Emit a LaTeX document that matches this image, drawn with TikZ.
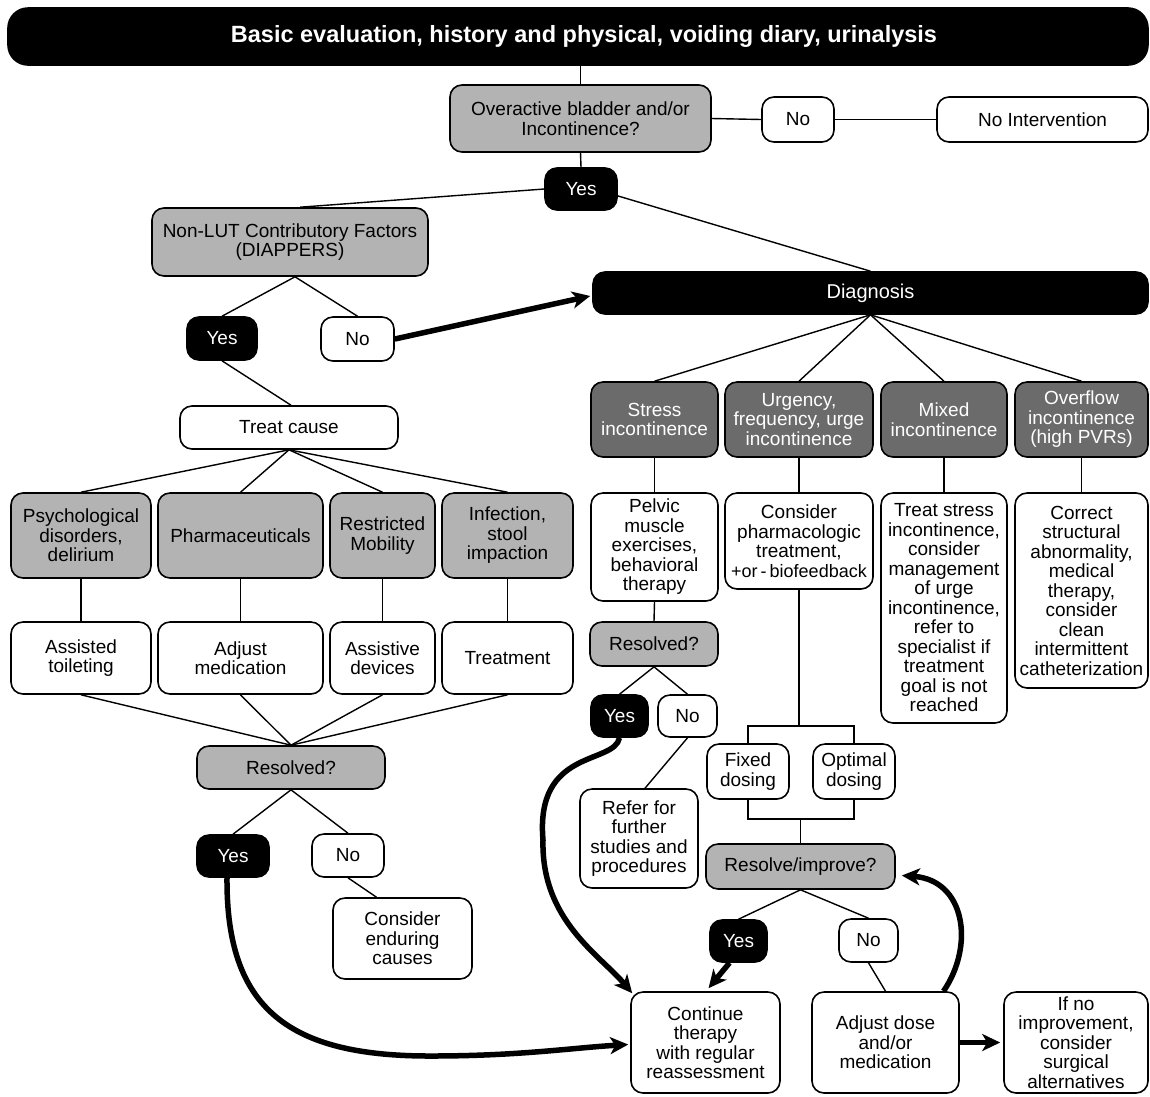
\documentclass[tikz,border=0pt]{standalone}
\usepackage{fontspec}
\setmainfont{Liberation Sans}
\usetikzlibrary{arrows.meta,calc}
\definecolor{lgray}{HTML}{B3B3B3}
\definecolor{dgray}{HTML}{6B6B6B}
\newcommand\bodyfs{\fontsize{19}{19.5}\selectfont}
\begin{document}
\begin{tikzpicture}[x=1pt,y=-1pt,
  base/.style={draw=black, line width=1.6pt, rounded corners=12pt, align=center, inner sep=0pt, font=\bodyfs},
  wbox/.style={base, fill=white},
  gbox/.style={base, fill=lgray},
  dbox/.style={base, fill=dgray, text=white},
  bbox/.style={base, fill=black, text=white},
  sz/.style 2 args={minimum width=#1, minimum height=#2},
  conn/.style={line width=1.4pt},
  boldarrow/.style={line width=5.5pt, -{Stealth[length=18pt,width=17pt,inset=5pt]}}
]
\useasboundingbox (0,0) rectangle (1150,1096);

% top
\node[bbox, sz={1140}{57}, rounded corners=20pt, font=\fontsize{23.5}{26}\selectfont\bfseries] (title) at (578,36.5) {\hspace*{12pt}Basic evaluation, history and physical, voiding diary, urinalysis};
\node[gbox, sz={261}{67}] (q1) at (580.5,118.5) {Overactive bladder and/or\\Incontinence?};
\node[wbox, sz={72}{45}] (no1) at (798,119.5) {No};
\node[wbox, sz={211}{45}] (noint) at (1042.5,119.5) {No Intervention};
\node[bbox, sz={72}{42}] (yes1) at (581,189) {Yes};
\node[gbox, sz={276}{68}] (nonlut) at (290,242) {Non-LUT Contributory Factors\\(DIAPPERS)};
\node[bbox, sz={555}{42}, font=\fontsize{20}{22}\selectfont] (diag) at (870.5,293) {Diagnosis};

% left branch
\node[bbox, sz={70}{43}] (yes2) at (222,338.5) {Yes};
\node[wbox, sz={73}{44}] (no2) at (357.5,339) {No};
\node[wbox, sz={218}{43}] (treat) at (289,427.5) {Treat cause};
\node[gbox, sz={140}{85}] (psych) at (81,535.5) {Psychological\\disorders,\\delirium};
\node[gbox, sz={165}{85}] (pharma) at (240.5,535.5) {Pharmaceuticals};
\node[gbox, sz={105}{85}] (restr) at (382.5,535.5) {Restricted\\Mobility};
\node[gbox, sz={131}{85}] (infect) at (507.5,535.5) {Infection,\\stool\\impaction};
\node[wbox, sz={140}{72}] (assist) at (81,658) {Assisted\\toileting};
\node[wbox, sz={165}{72}] (adjmed) at (240.5,658) {Adjust\\medication};
\node[wbox, sz={105}{72}] (devices) at (382.5,658) {Assistive\\devices};
\node[wbox, sz={131}{72}] (treatment) at (507.5,658) {Treatment};
\node[gbox, sz={188}{43}] (res1) at (291,767.5) {Resolved?};
\node[bbox, sz={72}{42}] (yes3) at (233,856) {Yes};
\node[wbox, sz={72}{43}] (no3) at (348,855.5) {No};
\node[wbox, sz={139}{81}] (enduring) at (402.5,938.5) {Consider\\enduring\\causes};

% right branch
\node[dbox, sz={127}{75}] (stress) at (654.5,419.5) {Stress\\incontinence};
\node[dbox, sz={148}{75}] (urg) at (799,419.5) {Urgency,\\frequency, urge\\incontinence};
\node[dbox, sz={126}{75}] (mixed) at (944,419.5) {Mixed\\incontinence};
\node[dbox, sz={133}{75}] (overflow) at (1081.5,419.5) {Overflow\\incontinence\\(high PVRs)};
\node[wbox, sz={127}{108}] (pelvic) at (654.5,547) {Pelvic\\muscle\\exercises,\\behavioral\\therapy};
\node[wbox, sz={148}{96}] (pharmtx) at (799,541) {Consider\\pharmacologic\\treatment,\\{\fontsize{18}{19.5}\selectfont +or\,-\,biofeedback}};
\node[wbox, sz={126}{230}] (treatstress) at (944,608) {Treat stress\\incontinence,\\consider\\management\\of urge\\incontinence,\\refer to\\specialist if\\treatment\\goal is not\\reached};
\node[wbox, sz={133}{195}] (correct) at (1081.5,590.5) {Correct\\structural\\abnormality,\\medical\\therapy,\\consider\\clean\\intermittent\\catheterization};
\node[gbox, sz={128}{44}] (res2) at (654,644) {Resolved?};
\node[bbox, sz={57}{42}] (yes4) at (619.5,716) {Yes};
\node[wbox, sz={59}{42}] (no4) at (687.5,716) {No};
\node[wbox, sz={118}{99}] (refer) at (639,838.5) {Refer for\\further\\studies and\\procedures};
\node[wbox, sz={82}{55}] (fixed) at (748,771.5) {Fixed\\dosing};
\node[wbox, sz={82}{55}] (optimal) at (854,771.5) {Optimal\\dosing};
\node[gbox, sz={189}{45}] (res3) at (800.5,866.5) {Resolve/improve?};
\node[bbox, sz={57}{42}] (yes5) at (738.5,941) {Yes};
\node[wbox, sz={59}{43}] (no5) at (868.5,940.5) {No};
\node[wbox, sz={149}{101}] (cont) at (705.5,1042.5) {Continue\\therapy\\with regular\\reassessment};
\node[wbox, sz={147}{101}] (adjdose) at (885.5,1042.5) {Adjust dose\\and/or\\medication};
\node[wbox, sz={144}{101}] (ifno) at (1076,1042.5) {If no\\improvement,\\consider\\surgical\\alternatives};

\coordinate (bt) at (799,726);
\coordinate (bb) at (800.5,819);

% connectors top
\draw[conn] (q1.north |- title.south) -- (q1.north);
\draw[conn] (q1.east) -- (no1.west);
\draw[conn] (no1.east) -- (noint.west);
\draw[conn] (q1.south) -- (yes1.north);
\draw[conn] (yes1.west) -- ([shift={(10,0)}]nonlut.north);
\draw[conn] ([shift={(-3,6)}]yes1.east) -- (diag.north);
\draw[conn] ([shift={(5,0)}]nonlut.south) -- (yes2.north);
\draw[conn] ([shift={(5,0)}]nonlut.south) -- (no2.north);
\draw[boldarrow] (no2.east) -- ([shift={(-2,3)}]diag.west);
\draw[conn] (yes2.south) -- ([shift={(2,0)}]treat.north);
\foreach \n in {psych,pharma,restr,infect}{\draw[conn] (treat.south) -- (\n.north);}
\draw[conn] (psych.south) -- (assist.north);
\draw[conn] (pharma.south) -- (adjmed.north);
\draw[conn] (restr.south) -- (devices.north);
\draw[conn] (infect.south) -- (treatment.north);
\foreach \n in {assist,adjmed,devices,treatment}{\draw[conn] (\n.south) -- (res1.north);}
\draw[conn] (res1.south) -- (yes3.north);
\draw[conn] (res1.south) -- (no3.north);
\draw[conn] (no3.south) -- ([shift={(-26,0)}]enduring.north);
\draw[boldarrow] ([shift={(-6,0)}]yes3.south) .. controls (226,1010) and (290,1056) .. (430,1056) .. controls (520,1056) and (570,1048) .. ([shift={(-2,2)}]cont.west);

% right connectors
\foreach \n in {stress,urg,mixed,overflow}{\draw[conn] (diag.south) -- (\n.north);}
\draw[conn] (stress.south) -- (pelvic.north);
\draw[conn] (urg.south) -- (pharmtx.north);
\draw[conn] (mixed.south) -- (treatstress.north);
\draw[conn] (overflow.south) -- (correct.north);
\draw[conn] (pelvic.south) -- (res2.north);
\draw[conn] (res2.south) -- (yes4.north);
\draw[conn] (res2.south) -- (no4.north);
\draw[conn] (no4.south) -- ([shift={(6,0)}]refer.north);
\draw[boldarrow] (yes4.south) .. controls (614,765) and (535,748) .. (543,840) .. controls (541,920) and (600,955) .. ([shift={(2,2)}]cont.north west);
\draw[conn] (pharmtx.south) -- (bt);
\draw[conn] (fixed.north) -- (fixed.north |- bt) -- (optimal.north |- bt) -- (optimal.north);
\draw[conn] (fixed.south) -- (fixed.south |- bb) -- (optimal.south |- bb) -- (optimal.south);
\draw[conn] (bb) -- (res3.north);
\draw[conn] (res3.south) -- (yes5.north);
\draw[conn] (res3.south) -- (no5.north);
\draw[boldarrow] ([shift={(-9,0)}]yes5.south) -- ([shift={(3,-3)}]cont.north);
\draw[conn] (no5.south) -- (adjdose.north);
\draw[boldarrow] (adjdose.east) -- ([shift={(-3,0)}]ifno.west);
\draw[boldarrow] ([shift={(58,0)}]adjdose.north) .. controls (975,945) and (965,880) .. ([shift={(6,9)}]res3.east);
\end{tikzpicture}
\end{document}
